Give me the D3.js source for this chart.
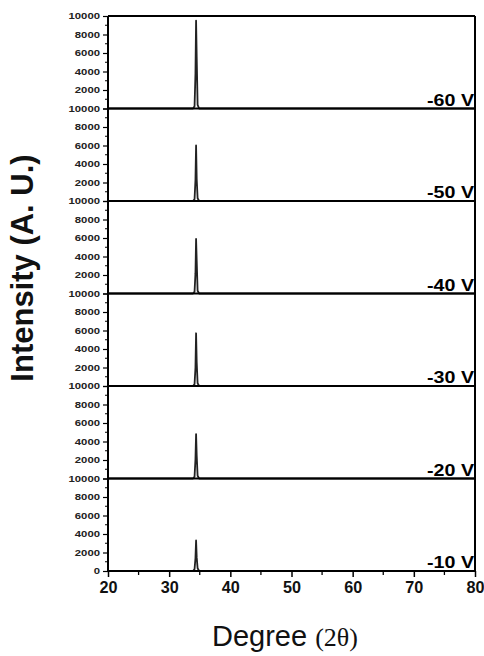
<!DOCTYPE html>
<html>
<head>
<meta charset="utf-8">
<script src="https://cdn.jsdelivr.net/npm/d3@7"></script>
<style>
  body { margin: 0; background: #fff; }
  svg { display: block; font-family: "Liberation Sans", Arial, sans-serif; }
  .axis--x text { font-weight: bold; }
</style>
</head>
<body>
<div id="chart"></div>
<script>
// data
const voltages = ['-60 V', '-50 V', '-40 V', '-30 V', '-20 V', '-10 V'];
const twoTheta = [20, 33.9, 34.15, 34.3, 34.4, 34.5, 34.65, 34.9, 80];
const int60 = [0, 0, 250, 3800, 9500, 5600, 400, 0, 0];
const int50 = [0, 0, 200, 2300, 6000, 2400, 300, 0, 0];
const int40 = [0, 0, 200, 2200, 5900, 3600, 300, 0, 0];
const int30 = [0, 0, 200, 2000, 5700, 2600, 300, 0, 0];
const int20 = [0, 0, 200, 2100, 4800, 2500, 300, 0, 0];
const int10 = [0, 0, 200, 1400, 3300, 1500, 300, 0, 0];
const series = [int60, int50, int40, int30, int20, int10];
const yTicks = [0, 2000, 4000, 6000, 8000, 10000];
const yMinor = [1000, 3000, 5000, 7000, 9000];
const xTicks = [20, 30, 40, 50, 60, 70, 80];
const xMinor = [25, 35, 45, 55, 65, 75];

const FONT = '"Liberation Sans", Arial, sans-serif';
const W = 484, H = 656;
const margin = {top: 16, right: 9, bottom: 85, left: 108};
const plotW = W - margin.left - margin.right;
const plotH = H - margin.top - margin.bottom;
const panelH = plotH / voltages.length;

const svg = d3.select('#chart').append('svg')
  .attr('width', W)
  .attr('height', H);

const g = svg.append('g')
  .attr('transform', `translate(${margin.left}, ${margin.top})`);

const x = d3.scaleLinear().domain([20, 80]).range([0, plotW]);

const line = d3.line();

voltages.forEach((v, i) => {
  const top = i * panelH;
  const y = d3.scaleLinear().domain([0, 10000]).range([top + panelH, top]);
  const last = i === voltages.length - 1;

  // spectrum
  const pts = twoTheta.map((t, k) => [x(t), y(series[i][k])]);
  g.append('path')
    .attr('d', line(pts))
    .attr('fill', 'none')
    .attr('stroke', '#222')
    .attr('stroke-width', 1.8)
    .attr('stroke-linejoin', 'round');

  // left axis
  const ax = g.append('g')
    .attr('class', 'axis axis--y')
    .call(d3.axisLeft(y)
      .tickValues(yTicks)
      .tickSize(5)
      .tickPadding(3)
      .tickFormat(d => (d === 0 && !last) ? '' : d))
    .attr('font-family', FONT);
  ax.select('.domain').remove();
  ax.selectAll('line').attr('stroke-width', 1.2);
  ax.selectAll('text')
    .attr('font-size', 9)
    .attr('font-weight', 'bold')
    .attr('fill', '#222')
    .attr('textLength', d => String(d).length * 6.3)
    .attr('lengthAdjust', 'spacingAndGlyphs');
  g.append('g')
    .selectAll('line')
    .data(yMinor)
    .join('line')
    .attr('x1', -3).attr('x2', 0)
    .attr('y1', d => y(d)).attr('y2', d => y(d))
    .attr('stroke', '#000')
    .attr('stroke-width', 1);

  // separator / frame lines
  g.append('line')
    .attr('x1', 0).attr('x2', plotW)
    .attr('y1', top + panelH).attr('y2', top + panelH)
    .attr('stroke', '#000')
    .attr('stroke-width', 2);

  // voltage label
  g.append('text')
    .attr('x', plotW - 1)
    .attr('y', top + panelH - 3)
    .attr('text-anchor', 'end')
    .attr('font-size', 17)
    .attr('font-weight', 'bold')
    .attr('textLength', 47)
    .attr('lengthAdjust', 'spacingAndGlyphs')
    .text(v);
});

// frame
g.append('line')
  .attr('x1', 0).attr('x2', plotW).attr('y1', 0).attr('y2', 0)
  .attr('stroke', '#000').attr('stroke-width', 2);
g.append('line')
  .attr('x1', 0).attr('x2', 0).attr('y1', 0).attr('y2', plotH)
  .attr('stroke', '#000').attr('stroke-width', 2);
g.append('line')
  .attr('x1', plotW).attr('x2', plotW).attr('y1', 0).attr('y2', plotH)
  .attr('stroke', '#000').attr('stroke-width', 2);

// bottom axis
const xa = g.append('g')
  .attr('class', 'axis axis--x')
  .attr('transform', `translate(0, ${plotH})`)
  .call(d3.axisBottom(x).tickValues(xTicks).tickSize(6).tickPadding(5))
  .attr('font-family', FONT)
  .attr('font-size', 16);
xa.select('.domain').remove();
xa.selectAll('line').attr('stroke-width', 1.5);
xa.selectAll('text')
  .attr('fill', '#111')
  .attr('textLength', 18)
  .attr('lengthAdjust', 'spacingAndGlyphs');
g.append('g')
  .attr('transform', `translate(0, ${plotH})`)
  .selectAll('line')
  .data(xMinor)
  .join('line')
  .attr('x1', d => x(d)).attr('x2', d => x(d))
  .attr('y1', 0).attr('y2', 4)
  .attr('stroke', '#000')
  .attr('stroke-width', 1.3);

// axis titles
const xt = svg.append('text')
  .attr('x', 212)
  .attr('y', 646)
  .attr('fill', '#111');
xt.append('tspan')
  .attr('font-size', 29)
  .text('Degree ');
xt.append('tspan')
  .attr('font-family', '"Liberation Serif", "Times New Roman", serif')
  .attr('font-size', 26)
  .text('(2θ)');

svg.append('text')
  .attr('transform', 'translate(33, 268) rotate(-90)')
  .attr('text-anchor', 'middle')
  .attr('font-size', 31)
  .attr('font-weight', 'bold')
  .attr('fill', '#111')
  .text('Intensity (A. U.)');
</script>
</body>
</html>
